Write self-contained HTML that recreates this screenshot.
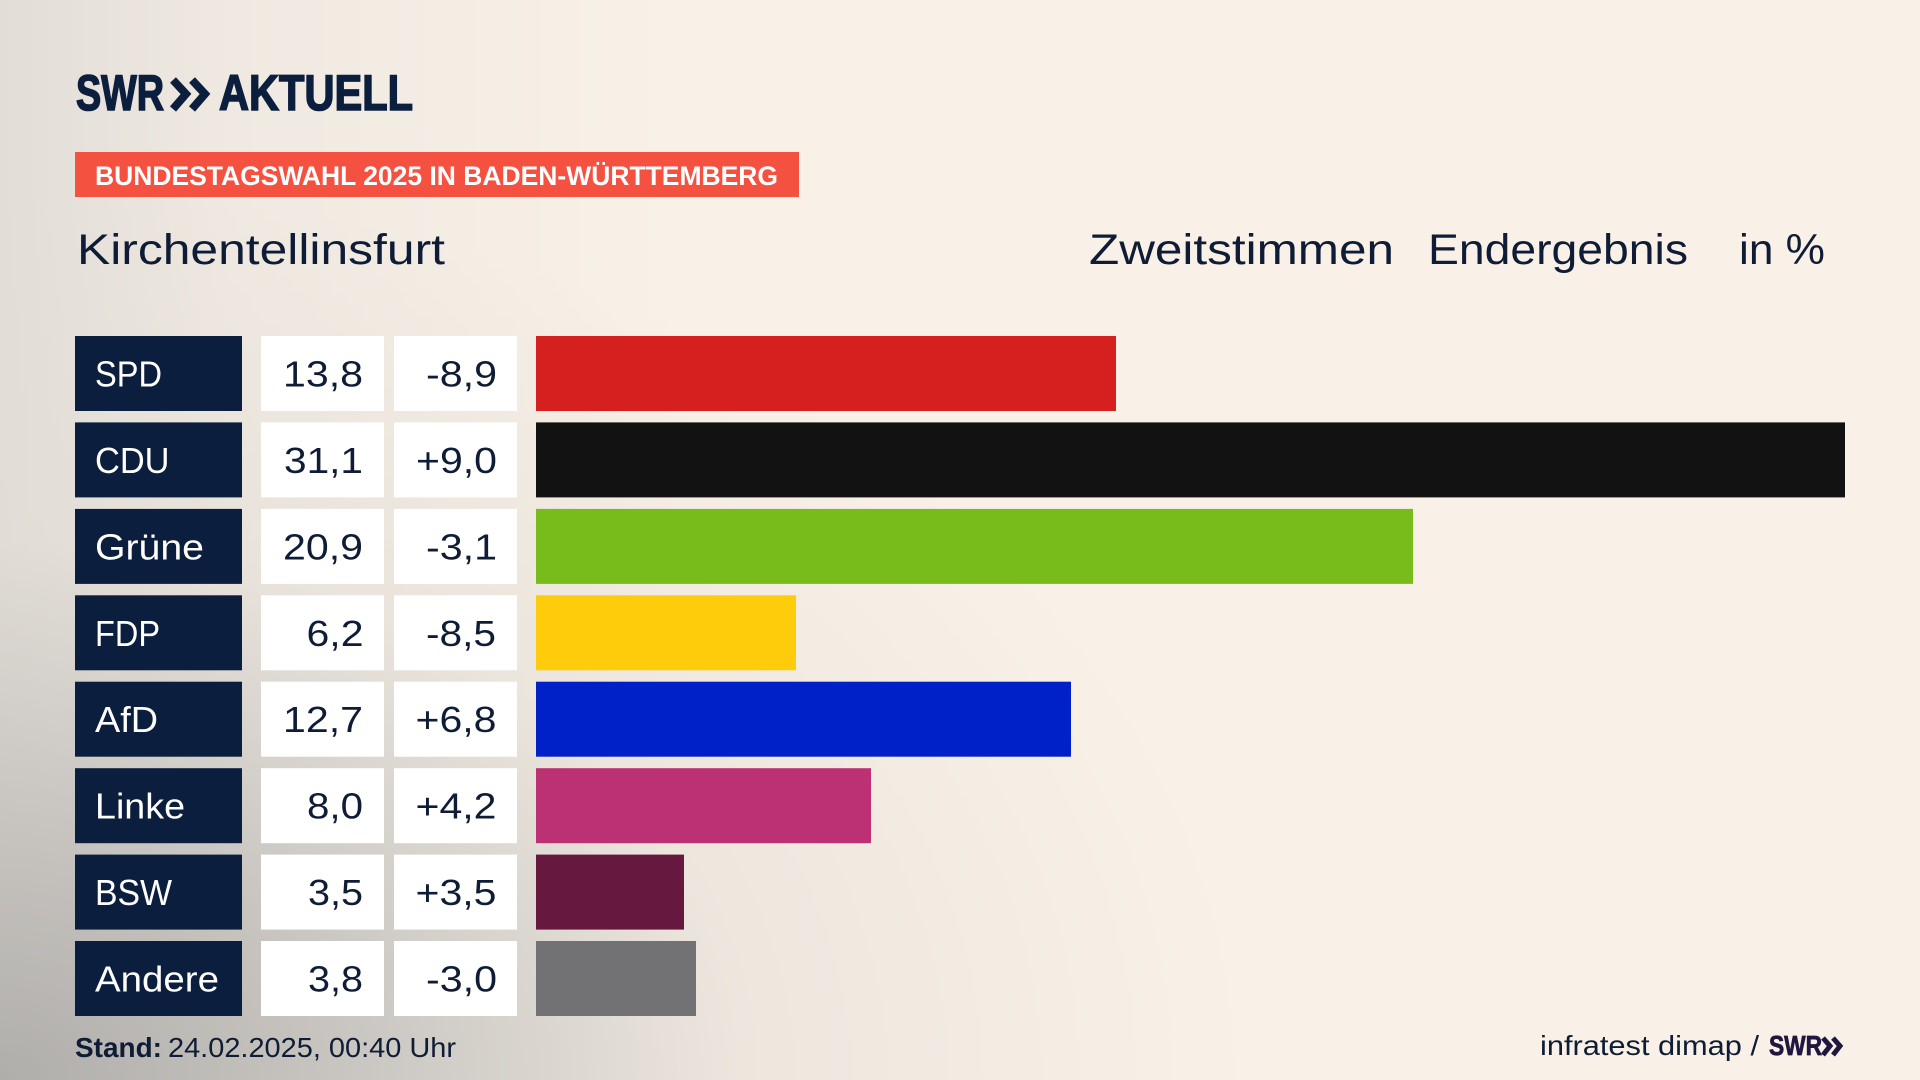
<!DOCTYPE html>
<html>
<head>
<meta charset="utf-8">
<style>
html,body{margin:0;padding:0;width:1920px;height:1080px;overflow:hidden;}
body{
  background:
    radial-gradient(ellipse 1250px 900px at 0% 100%, rgba(176,174,171,1) 0%, rgba(196,193,189,0.85) 30%, rgba(225,220,213,0.5) 60%, rgba(249,241,231,0) 100%),
    linear-gradient(90deg, #e2ddd7 0%, #efe9e1 12%, #f9f1e7 35%, #f9f1e7 100%);
}
svg{position:absolute;left:0;top:0;}
text{font-family:"Liberation Sans", sans-serif;}
</style>
</head>
<body>
<svg width="1920" height="1080" viewBox="0 0 1920 1080" xmlns="http://www.w3.org/2000/svg">
  <!-- Logo -->
  <text x="76" y="110" font-size="50" font-weight="700" fill="#0c1e3e" stroke="#0c1e3e" stroke-width="1.6" textLength="88" lengthAdjust="spacingAndGlyphs">SWR</text>
  <polyline points="173,80 186,94 173,109" fill="none" stroke="#0c1e3e" stroke-width="8" stroke-linejoin="miter"/>
  <polyline points="192,80 205,94 192,109" fill="none" stroke="#0c1e3e" stroke-width="8" stroke-linejoin="miter"/>
  <text x="219" y="110" font-size="50" font-weight="700" fill="#0c1e3e" stroke="#0c1e3e" stroke-width="1.6" textLength="194" lengthAdjust="spacingAndGlyphs">AKTUELL</text>

  <!-- Banner -->
  <rect x="75" y="152" width="724" height="45" fill="#f45141"/>
  <text x="95" y="185" font-size="27" font-weight="700" fill="#ffffff" textLength="683" lengthAdjust="spacingAndGlyphs">BUNDESTAGSWAHL 2025 IN BADEN-WÜRTTEMBERG</text>

  <!-- Headers -->
  <text x="77" y="264" font-size="43" fill="#0f1c35" textLength="368" lengthAdjust="spacingAndGlyphs">Kirchentellinsfurt</text>
  <text x="1089" y="264" font-size="43" fill="#0f1c35" textLength="305" lengthAdjust="spacingAndGlyphs">Zweitstimmen</text>
  <text x="1428" y="264" font-size="43" fill="#0f1c35" textLength="260" lengthAdjust="spacingAndGlyphs">Endergebnis</text>
  <text x="1739" y="264" font-size="43" fill="#0f1c35" textLength="86" lengthAdjust="spacingAndGlyphs">in %</text>

  <!-- Rows -->
  <g>
    <rect x="75" y="336" width="167" height="75" fill="#0c1e3e"/>
    <rect x="261" y="336" width="123" height="75" fill="#ffffff"/>
    <rect x="394" y="336" width="123" height="75" fill="#ffffff"/>
    <rect x="536" y="336" width="580" height="75" fill="#d61f1f"/>
    <text x="95" y="386.5" font-size="36" fill="#ffffff" textLength="67" lengthAdjust="spacingAndGlyphs">SPD</text>
    <text x="283" y="386.5" font-size="36" fill="#0f1c35" textLength="80" lengthAdjust="spacingAndGlyphs">13,8</text>
    <text x="426" y="386.5" font-size="36" fill="#0f1c35" textLength="71" lengthAdjust="spacingAndGlyphs">-8,9</text>

    <rect x="75" y="422.4" width="167" height="75" fill="#0c1e3e"/>
    <rect x="261" y="422.4" width="123" height="75" fill="#ffffff"/>
    <rect x="394" y="422.4" width="123" height="75" fill="#ffffff"/>
    <rect x="536" y="422.4" width="1309" height="75" fill="#121212"/>
    <text x="95" y="472.9" font-size="36" fill="#ffffff" textLength="74.5" lengthAdjust="spacingAndGlyphs">CDU</text>
    <text x="284" y="472.9" font-size="36" fill="#0f1c35" textLength="79" lengthAdjust="spacingAndGlyphs">31,1</text>
    <text x="416" y="472.9" font-size="36" fill="#0f1c35" textLength="81" lengthAdjust="spacingAndGlyphs">+9,0</text>

    <rect x="75" y="508.9" width="167" height="75" fill="#0c1e3e"/>
    <rect x="261" y="508.9" width="123" height="75" fill="#ffffff"/>
    <rect x="394" y="508.9" width="123" height="75" fill="#ffffff"/>
    <rect x="536" y="508.9" width="877" height="75" fill="#78bc1b"/>
    <text x="95" y="559.4" font-size="36" fill="#ffffff" textLength="109" lengthAdjust="spacingAndGlyphs">Grüne</text>
    <text x="283" y="559.4" font-size="36" fill="#0f1c35" textLength="80" lengthAdjust="spacingAndGlyphs">20,9</text>
    <text x="426" y="559.4" font-size="36" fill="#0f1c35" textLength="71" lengthAdjust="spacingAndGlyphs">-3,1</text>

    <rect x="75" y="595.3" width="167" height="75" fill="#0c1e3e"/>
    <rect x="261" y="595.3" width="123" height="75" fill="#ffffff"/>
    <rect x="394" y="595.3" width="123" height="75" fill="#ffffff"/>
    <rect x="536" y="595.3" width="260" height="75" fill="#ffcc0b"/>
    <text x="95" y="645.8" font-size="36" fill="#ffffff" textLength="65" lengthAdjust="spacingAndGlyphs">FDP</text>
    <text x="306.5" y="645.8" font-size="36" fill="#0f1c35" textLength="57" lengthAdjust="spacingAndGlyphs">6,2</text>
    <text x="426" y="645.8" font-size="36" fill="#0f1c35" textLength="70" lengthAdjust="spacingAndGlyphs">-8,5</text>

    <rect x="75" y="681.7" width="167" height="75" fill="#0c1e3e"/>
    <rect x="261" y="681.7" width="123" height="75" fill="#ffffff"/>
    <rect x="394" y="681.7" width="123" height="75" fill="#ffffff"/>
    <rect x="536" y="681.7" width="535" height="75" fill="#0021c7"/>
    <text x="95" y="732.2" font-size="36" fill="#ffffff" textLength="63" lengthAdjust="spacingAndGlyphs">AfD</text>
    <text x="283" y="732.2" font-size="36" fill="#0f1c35" textLength="80" lengthAdjust="spacingAndGlyphs">12,7</text>
    <text x="415.5" y="732.2" font-size="36" fill="#0f1c35" textLength="81" lengthAdjust="spacingAndGlyphs">+6,8</text>

    <rect x="75" y="768.2" width="167" height="75" fill="#0c1e3e"/>
    <rect x="261" y="768.2" width="123" height="75" fill="#ffffff"/>
    <rect x="394" y="768.2" width="123" height="75" fill="#ffffff"/>
    <rect x="536" y="768.2" width="335" height="75" fill="#bc3074"/>
    <text x="95" y="818.7" font-size="36" fill="#ffffff" textLength="90" lengthAdjust="spacingAndGlyphs">Linke</text>
    <text x="307" y="818.7" font-size="36" fill="#0f1c35" textLength="56" lengthAdjust="spacingAndGlyphs">8,0</text>
    <text x="415.5" y="818.7" font-size="36" fill="#0f1c35" textLength="81" lengthAdjust="spacingAndGlyphs">+4,2</text>

    <rect x="75" y="854.6" width="167" height="75" fill="#0c1e3e"/>
    <rect x="261" y="854.6" width="123" height="75" fill="#ffffff"/>
    <rect x="394" y="854.6" width="123" height="75" fill="#ffffff"/>
    <rect x="536" y="854.6" width="148" height="75" fill="#67183e"/>
    <text x="95" y="905.1" font-size="36" fill="#ffffff" textLength="77" lengthAdjust="spacingAndGlyphs">BSW</text>
    <text x="308" y="905.1" font-size="36" fill="#0f1c35" textLength="55" lengthAdjust="spacingAndGlyphs">3,5</text>
    <text x="415.5" y="905.1" font-size="36" fill="#0f1c35" textLength="81" lengthAdjust="spacingAndGlyphs">+3,5</text>

    <rect x="75" y="941" width="167" height="75" fill="#0c1e3e"/>
    <rect x="261" y="941" width="123" height="75" fill="#ffffff"/>
    <rect x="394" y="941" width="123" height="75" fill="#ffffff"/>
    <rect x="536" y="941" width="160" height="75" fill="#727274"/>
    <text x="95" y="991.5" font-size="36" fill="#ffffff" textLength="124" lengthAdjust="spacingAndGlyphs">Andere</text>
    <text x="308" y="991.5" font-size="36" fill="#0f1c35" textLength="55" lengthAdjust="spacingAndGlyphs">3,8</text>
    <text x="426" y="991.5" font-size="36" fill="#0f1c35" textLength="71" lengthAdjust="spacingAndGlyphs">-3,0</text>
  </g>

  <!-- Footer -->
  <text x="75" y="1057" font-size="28" font-weight="700" fill="#0f1c35" textLength="87" lengthAdjust="spacingAndGlyphs">Stand:</text>
  <text x="168" y="1057" font-size="28" fill="#0f1c35" textLength="288" lengthAdjust="spacingAndGlyphs">24.02.2025, 00:40 Uhr</text>

  <text x="1540" y="1055" font-size="28" fill="#0f1c35" textLength="219" lengthAdjust="spacingAndGlyphs">infratest dimap /</text>
  <text x="1769" y="1055" font-size="28" font-weight="700" fill="#21163f" stroke="#21163f" stroke-width="0.8" textLength="53" lengthAdjust="spacingAndGlyphs">SWR</text>
  <polyline points="1823,1038 1830,1046 1823,1055" fill="none" stroke="#21163f" stroke-width="5"/>
  <polyline points="1833,1038 1840,1046 1833,1055" fill="none" stroke="#21163f" stroke-width="5"/>
</svg>
</body>
</html>
